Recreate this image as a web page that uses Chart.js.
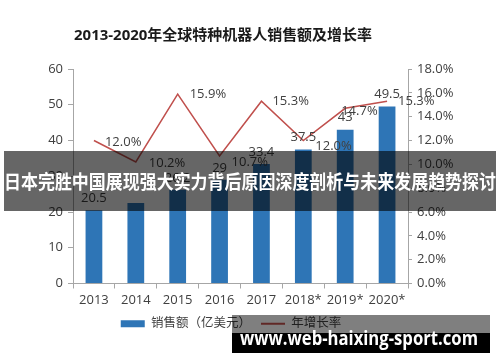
<!DOCTYPE html>
<html>
<head>
<meta charset="utf-8">
<script src="https://cdn.jsdelivr.net/npm/chart.js@4"></script>
<style>
  body { margin: 0; background: #fff; }
  #wrap { position: relative; width: 500px; height: 362px; overflow: hidden; }
  .banner {
    position: absolute; left: 4px; top: 151px; width: 492px; height: 60px;
    background: rgba(0, 0, 0, 0.6);
  }
  .banner span, .mark span {
    position: absolute; white-space: nowrap; color: #fff; font-weight: bold;
    transform-origin: 0 0;
  }
  .banner span { font: bold 19px "Noto Sans CJK SC", sans-serif; left: 0; top: 16px; line-height: 28px; }
  .mark-top { position: absolute; left: 232px; top: 315px; width: 258px; height: 18px; background: rgba(0, 0, 0, 0.5); }
  .mark-bot { position: absolute; left: 232px; top: 333px; width: 258px; height: 20px; background: #000; }
  .mark span { font: bold 19px "Open Sans", sans-serif; left: 240px; top: 326px; line-height: 24px; }
</style>
</head>
<body>
<div id="wrap">
  <canvas id="chart" width="500" height="362"></canvas>
  <div class="banner"><span id="bannerText" data-w="492">日本完胜中国展现强大实力背后原因深度剖析与未来发展趋势探讨</span></div>
  <div class="mark">
    <div class="mark-top"></div>
    <div class="mark-bot"></div>
    <span id="markText" data-w="238">www.web-haixing-sport.com</span>
  </div>
</div>
<script>
const years = ['2013', '2014', '2015', '2016', '2017', '2018*', '2019*', '2020*'];
const sales = [20.5, 22.5, 26.2, 29, 33.4, 37.5, 43, 49.5];
const salesLabels = ['20.5', '', '26.2', '29', '33.4', '37.5', '43', '49.5'];
const growth = [12.0, 10.2, 15.9, 10.7, 15.3, 12.0, 14.7, 15.3];
const leftTicks = [0, 10, 20, 30, 40, 50, 60];
const rightTicks = [0, 2, 4, 6, 8, 10, 12, 14, 16, 18];

const title = '2013-2020年全球特种机器人销售额及增长率';
const font = '"Open Sans", "Noto Sans CJK SC", sans-serif';
const textColor = '#404040';
const axisColor = '#a6a6a6';

// where each % label sits relative to its point (Excel put a few by hand)
const rateShift = [[11, 2], [13, 1], [12, 0], [12, 6], [11, 0], [12, 6], [-4, 3], [11, 0]];

const drawExtras = {
    id: 'drawExtras',
    afterDatasetsDraw(chart) {
        const ctx = chart.ctx;
        ctx.save();
        ctx.fillStyle = '#1a1a1a';
        ctx.font = 'bold 15px ' + font;
        ctx.textAlign = 'left';
        ctx.textBaseline = 'middle';
        const w = ctx.measureText(title).width;
        // the title is a bit narrower in the picture
        ctx.translate(74, 36);
        ctx.scale(298 / w, 1);
        ctx.fillText(title, 0, 0);
        ctx.setTransform(1, 0, 0, 1, 0, 0);

        ctx.fillStyle = textColor;
        ctx.font = '13px ' + font;
        ctx.textAlign = 'center';
        chart.getDatasetMeta(0).data.forEach((bar, i) => {
            if (salesLabels[i]) ctx.fillText(salesLabels[i], bar.x, bar.y - 12);
        });
        ctx.textAlign = 'left';
        chart.getDatasetMeta(1).data.forEach((pt, i) => {
            ctx.fillText(growth[i].toFixed(1) + '%', pt.x + rateShift[i][0], pt.y + rateShift[i][1]);
        });
        ctx.restore();
    }
};

new Chart(document.getElementById('chart'), {
    data: {
        labels: years,
        datasets: [
            {
                type: 'bar',
                label: '销售额（亿美元）',
                data: sales,
                backgroundColor: '#2e75b6',
                barPercentage: 0.4,
                categoryPercentage: 1,
                yAxisID: 'y',
                order: 1
            },
            {
                type: 'line',
                label: '年增长率',
                data: growth,
                borderColor: '#c0504d',
                backgroundColor: '#c0504d',
                borderWidth: 1.5,
                pointRadius: 0,
                tension: 0,
                yAxisID: 'y1',
                order: 0
            }
        ]
    },
    options: {
        responsive: false,
        animation: false,
        layout: { padding: { top: 69, bottom: 22, left: 0, right: 38 } },
        scales: {
            x: {
                offset: true,
                grid: { offset: true, drawOnChartArea: false, tickLength: 5, color: axisColor },
                border: { color: axisColor },
                ticks: { color: textColor, font: { family: font, size: 13 }, padding: 4, maxRotation: 0 },
                afterFit: s => { s.height = 24; }
            },
            y: {
                position: 'left',
                min: 0,
                max: 60,
                afterBuildTicks: s => { s.ticks = leftTicks.map(v => ({ value: v })); },
                grid: { drawOnChartArea: false, tickLength: 5, color: axisColor },
                border: { color: axisColor },
                ticks: { color: textColor, font: { family: font, size: 13 }, padding: 5 },
                afterFit: s => { s.width = 73; }
            },
            y1: {
                position: 'right',
                min: 0,
                max: 18,
                afterBuildTicks: s => { s.ticks = rightTicks.map(v => ({ value: v })); },
                grid: { drawOnChartArea: false, tickLength: 4, color: axisColor },
                border: { color: axisColor },
                ticks: {
                    color: textColor, font: { family: font, size: 13 }, padding: 5,
                    callback: v => v.toFixed(1) + '%'
                },
                afterFit: s => { s.width = 54; }
            }
        },
        plugins: {
            legend: {
                position: 'bottom',
                labels: {
                    color: textColor,
                    font: { family: font, size: 12.5 },
                    usePointStyle: true,
                    pointStyleWidth: 24,
                    boxHeight: 7,
                    padding: 10,
                    sort: (a, b) => a.datasetIndex - b.datasetIndex,
                    generateLabels: chart => {
                        const items = Chart.defaults.plugins.legend.labels.generateLabels(chart);
                        items.forEach(it => {
                            it.pointStyle = it.datasetIndex === 0 ? 'rect' : 'line';
                            if (it.datasetIndex === 1) it.lineWidth = 2;
                        });
                        return items;
                    }
                }
            },
            tooltip: { enabled: false },
            title: { display: false }
        }
    },
    plugins: [drawExtras]
});

// squeeze the overlay texts to the widths they have in the picture
document.querySelectorAll('[data-w]').forEach(el => {
    const k = Number(el.dataset.w) / el.getBoundingClientRect().width;
    el.style.transform = 'scaleX(' + k + ')';
});
</script>
</body>
</html>
